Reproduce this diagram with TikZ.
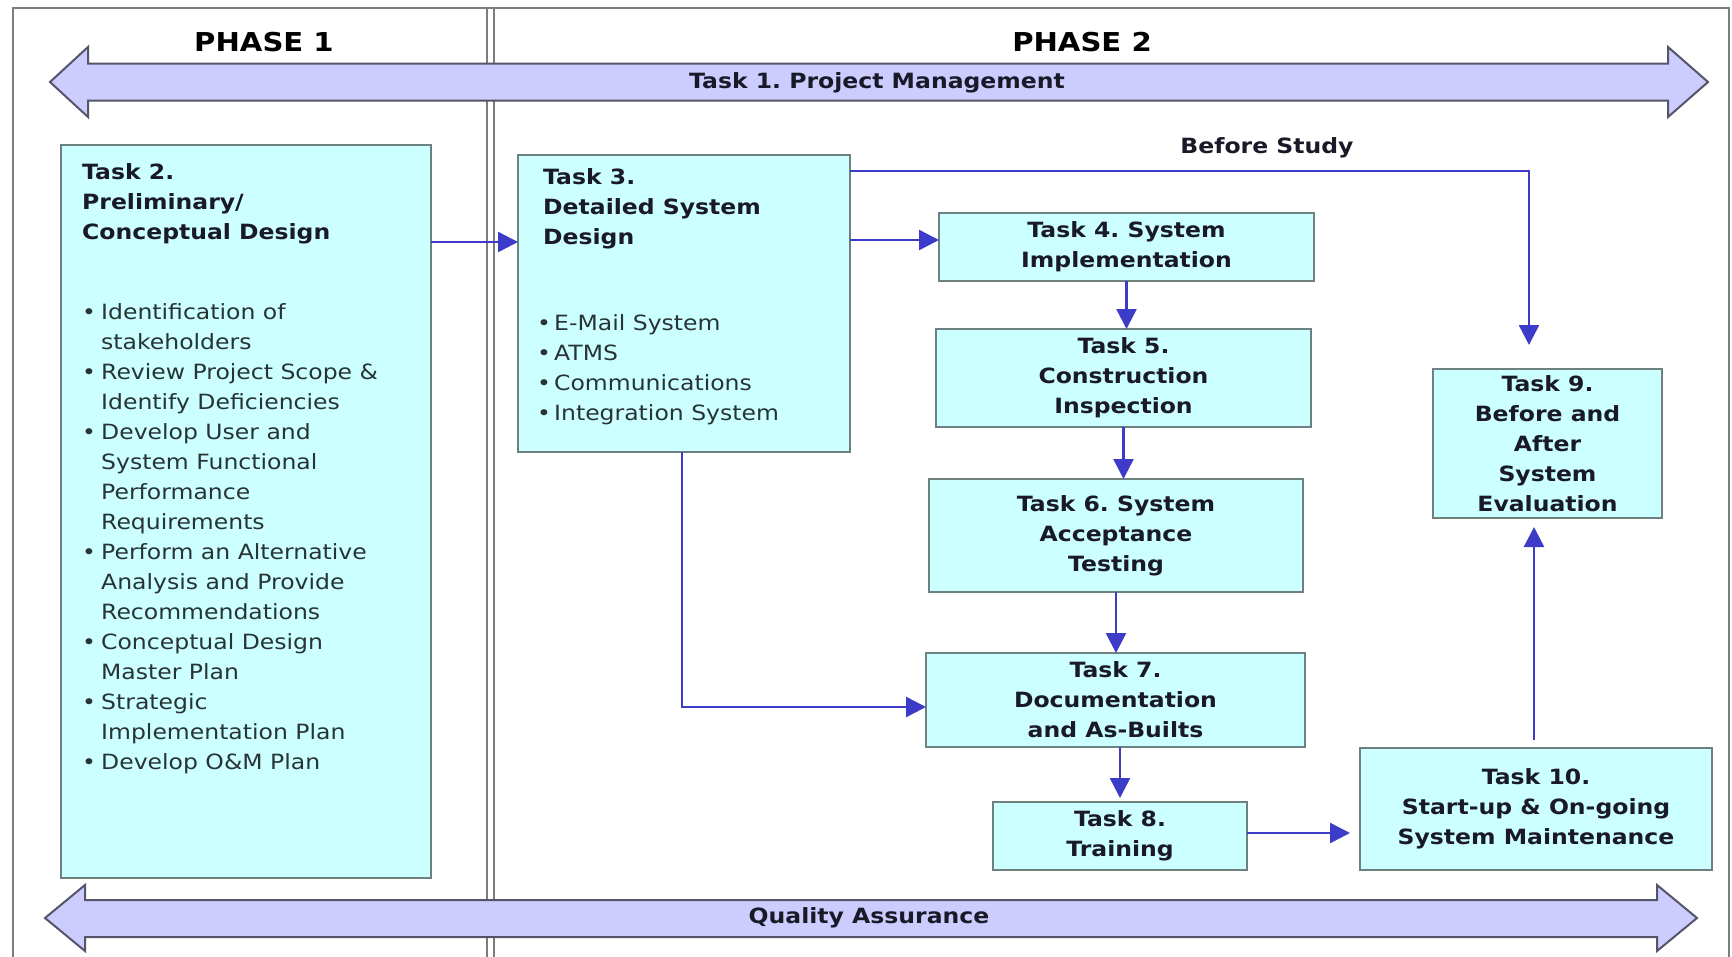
\documentclass[tikz,border=0pt]{standalone}
\usepackage{fontspec}
\setmainfont{DejaVu Sans}[FakeStretch=1.12]
\usetikzlibrary{arrows.meta,calc}
\definecolor{boxfill}{RGB}{204,255,255}
\definecolor{boxline}{RGB}{110,128,128}
\definecolor{arrfill}{RGB}{204,204,255}
\definecolor{arrline}{RGB}{85,85,105}
\definecolor{connc}{RGB}{60,60,200}
\definecolor{framec}{RGB}{125,125,125}
\definecolor{txt}{RGB}{25,25,40}
\definecolor{btxt}{RGB}{40,52,52}
\newcommand{\bul}{\makebox[19pt][l]{•}}
\newcommand{\ind}{\hspace*{19pt}}
\frenchspacing
\begin{document}
\begin{tikzpicture}[x=1pt,y=-1pt,
  box/.style={draw=boxline, fill=boxfill, line width=2pt, inner sep=0pt, outer sep=0pt},
  lbl/.style={font=\fontsize{21}{30}\selectfont\bfseries, align=center, text=txt},
  head/.style={font=\fontsize{21}{30}\selectfont\bfseries, align=left, text=txt, inner sep=0pt, anchor=north west},
  blist/.style={font=\fontsize{21}{30}\selectfont, align=left, text=btxt, inner sep=0pt, anchor=north west},
  conn/.style={draw=connc, line width=2.5pt, -{Triangle[length=20pt,width=20pt]}},
  bigarrow/.style={draw=arrline, fill=arrfill, line width=2pt, line join=miter},
  phase/.style={font=\fontsize{26}{30}\selectfont\bfseries, text=black},
]
\useasboundingbox (0,0) rectangle (1732,956);

% frame and divider
\draw[framec, line width=2pt] (13,960) -- (13,8) -- (1729,8) -- (1729,960);
\draw[framec, line width=2pt] (487,8) -- (487,960);
\draw[framec, line width=2pt] (494,8) -- (494,960);

\node[phase] (ph1) at (264,42) {PHASE 1};
\node[phase] (ph2) at (1082,42) {PHASE 2};

% big double arrows
\draw[bigarrow] (50,82) -- (88,47) -- (88,63.5) -- (1668,63.5) -- (1668,47) -- (1708,82)
  -- (1668,117) -- (1668,100.5) -- (88,100.5) -- (88,117) -- cycle;
\node[lbl] (pm) at (877,83) {Task 1. Project Management};
\draw[bigarrow] (45,918) -- (85,885) -- (85,900) -- (1657,900) -- (1657,885) -- (1697,918)
  -- (1657,951) -- (1657,937) -- (85,937) -- (85,951) -- cycle;
\node[lbl] (qa) at (869,918) {Quality Assurance};

% boxes
\node[box, minimum width=370pt, minimum height=733pt] (t2) at (246,511.5) {};
\node[head] (t2h) at (82,163.5) {Task 2.\\ Preliminary/\\ Conceptual Design};
\node[blist] (t2b) at (82,303.5) {\bul Identification of\\ \ind stakeholders\\
 \bul Review Project Scope \&\\ \ind Identify Deficiencies\\
 \bul Develop User and\\ \ind System Functional\\ \ind Performance\\ \ind Requirements\\
 \bul Perform an Alternative\\ \ind Analysis and Provide\\ \ind Recommendations\\
 \bul Conceptual Design\\ \ind Master Plan\\
 \bul Strategic\\ \ind Implementation Plan\\
 \bul Develop O\&M Plan};

\node[box, minimum width=332pt, minimum height=297pt] (t3) at (684,303.5) {};
\node[head] (t3h) at (543,168.5) {Task 3.\\ Detailed System\\ Design};
\node[blist] (t3b) at (537,314.5) {\makebox[17pt][l]{•}E-Mail System\\ \makebox[17pt][l]{•}ATMS\\
 \makebox[17pt][l]{•}Communications\\ \makebox[17pt][l]{•}Integration System};

\node[box, lbl, minimum width=375pt, minimum height=68pt] (t4) at (1126.5,247) {Task 4. System\\ Implementation};
\node[box, lbl, minimum width=375pt, minimum height=98pt] (t5) at (1123.5,378) {Task 5.\\ Construction\\ Inspection};
\node[box, lbl, minimum width=374pt, minimum height=113pt] (t6) at (1116,535.5) {Task 6. System\\ Acceptance\\ Testing};
\node[box, lbl, minimum width=379pt, minimum height=94pt] (t7) at (1115.5,700) {Task 7.\\ Documentation\\ and As-Builts};
\node[box, lbl, minimum width=254pt, minimum height=68pt] (t8) at (1120,836) {Task 8.\\ Training};
\node[box, lbl, minimum width=229pt, minimum height=149pt] (t9) at (1547.5,443.5) {Task 9.\\ Before and\\ After\\ System\\ Evaluation};
\node[box, lbl, minimum width=352pt, minimum height=122pt] (t10) at (1536,809) {Task 10.\\ Start-up \& On-going\\ System Maintenance};

\node[lbl] (bs) at (1267,148) {Before Study};

% connectors
\draw[conn] ($(t2.north east)+(0,97)$) -- ($(t3.north west)+(0,87)$);
\draw[conn] ($(t3.north east)+(0,85)$) -- ($(t4.north west)+(0,27)$);
\coordinate (bsend) at ($(t9.north)+(-18.5,-24)$);
\draw[conn] ($(t3.north east)+(0,16)$) -| (bsend);
\draw[conn] (t4.south) -- (t4.south |- t5.north);
\draw[conn] (t5.south) -- (t5.south |- t6.north);
\draw[conn] (t6.south) -- (t6.south |- t7.north);
\draw[conn] ($(t3.south)+(-2,0)$) |- ($(t7.west)+(0,7)$);
\draw[conn] (t8.north |- t7.south) -- ($(t8.north)+(0,-4)$);
\draw[conn] ($(t8.east)+(0,-3)$) -- ($(t10.west |- t8.east)+(-10,-3)$);
\draw[conn] ($(t10.north)+(-2,-8)$) -- ($(t9.south)+(-13.5,9)$);
\end{tikzpicture}
\end{document}
